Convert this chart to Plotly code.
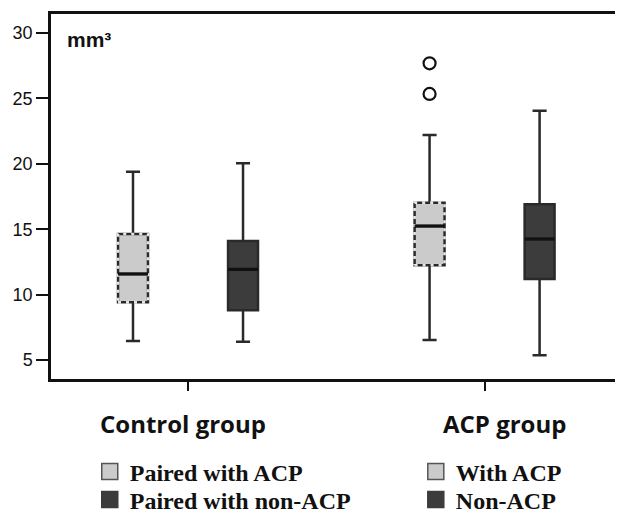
import plotly.graph_objects as go

# ---- data ----
groups = ["Control group", "ACP group"]
series_names = ["Paired with ACP", "Paired with non-ACP", "With ACP", "Non-ACP"]
series_group = [0, 0, 1, 1]
series_side = [-1, 1, -1, 1]
lower = [6.45, 6.4, 6.53, 5.36]
q1 = [9.41, 8.8, 12.24, 11.19]
median = [11.58, 11.93, 15.24, 14.25]
q3 = [14.63, 14.1, 17.03, 16.9]
upper = [19.4, 20.04, 22.2, 24.06]
outlier_series = [2, 2]
outlier_values = [27.68, 25.34]
y_ticks = [5, 10, 15, 20, 25, 30]
unit_label = "mm³"

# ---- styles ----
series_light = [True, False, True, False]
LIGHT = "#cbcbcb"
DARK = "#3c3c3c"
EDGE = "#2a2a2a"
OFFSET = 0.1855
BOX_W = 0.101
legend_ids = ["legend", "legend2", "legend3", "legend4"]
legend_pos = [(0.068, -0.2548), (0.068, -0.3315), (0.64, -0.2548), (0.64, -0.3315)]

fig = go.Figure()

for i, name in enumerate(series_names):
    pos = series_group[i] + series_side[i] * OFFSET
    fill = LIGHT if series_light[i] else DARK
    fig.add_trace(go.Box(
        x=[pos], q1=[q1[i]], median=[median[i]], q3=[q3[i]],
        lowerfence=[lower[i]], upperfence=[upper[i]],
        boxpoints=False, width=BOX_W, whiskerwidth=0.47,
        fillcolor=fill, line=dict(color=EDGE, width=2.5),
        showlegend=False, name=name,
    ))

# dashed outline for light boxes (overlay light dashes on the solid edge)
for i, name in enumerate(series_names):
    pos = series_group[i] + series_side[i] * OFFSET
    hw = BOX_W / 2
    if series_light[i]:
        fig.add_trace(go.Scatter(
            x=[pos - hw, pos + hw, pos + hw, pos - hw, pos - hw],
            y=[q1[i], q1[i], q3[i], q3[i], q1[i]],
            mode="lines", line=dict(color="#e6e6e6", width=2.6, dash="3px,5px"),
            showlegend=False, hoverinfo="skip",
        ))
    # thicker black median line
    fig.add_trace(go.Scatter(
        x=[pos - hw, pos + hw], y=[median[i], median[i]],
        mode="lines", line=dict(color="#111111", width=3.2),
        showlegend=False, hoverinfo="skip",
    ))

# outliers
fig.add_trace(go.Scatter(
    x=[series_group[s] + series_side[s] * OFFSET for s in outlier_series],
    y=outlier_values, mode="markers",
    marker=dict(symbol="circle-open", size=12, color="#111111", line=dict(width=2.2)),
    showlegend=False, hoverinfo="skip",
))

# legend entries
for i, name in enumerate(series_names):
    fill = LIGHT if series_light[i] else DARK
    fig.add_trace(go.Scatter(
        x=[None], y=[None], mode="markers", name=name,
        marker=dict(symbol="square", size=16, color=fill,
                    line=dict(color="#555555" if series_light[i] else DARK, width=1.5)),
        legend=legend_ids[i],
    ))

legend_font = dict(family="Liberation Serif", size=24, color="#111111", weight="bold")

annotations = [
    dict(text=unit_label, xref="paper", yref="paper", x=0.024, y=0.929,
         xanchor="left", yanchor="middle", showarrow=False,
         font=dict(family="Liberation Sans", size=21, color="#111111", weight="bold")),
]
label_shift = [-5, 20]
for g, lab in enumerate(groups):
    annotations.append(dict(
        text=lab, xref="x", yref="paper", x=g, y=-0.122, xshift=label_shift[g],
        xanchor="center", yanchor="middle", showarrow=False,
        font=dict(family="Open Sans", size=24, color="#111111", weight="bold"),
    ))

layout_legends = {}
for lid, (lx, ly) in zip(legend_ids, legend_pos):
    layout_legends[lid] = dict(x=lx, y=ly, xanchor="left", yanchor="middle",
                               font=legend_font, bgcolor="rgba(0,0,0,0)")

# page body has an 8px margin: figure is 8px smaller, margins shifted by 8px
fig.update_layout(
    width=615, height=505,
    margin=dict(l=43, r=2, t=6, b=134, autoexpand=False),
    paper_bgcolor="white", plot_bgcolor="white",
    annotations=annotations,
    xaxis=dict(range=[-0.462, 1.46], tickvals=[0, 1], showticklabels=False,
               ticks="outside", ticklen=9, tickwidth=2, tickcolor="#111111",
               showline=True, linewidth=2.5, linecolor="#111111", mirror=True,
               showgrid=False, zeroline=False, automargin=False),
    yaxis=dict(range=[3.55, 31.45], tickvals=y_ticks,
               ticks="outside", ticklen=12, tickwidth=2, tickcolor="#111111",
               tickfont=dict(family="Liberation Sans", size=18, color="#111111"),
               showline=True, linewidth=2.5, linecolor="#111111", mirror=True,
               showgrid=False, zeroline=False, automargin=False),
    **layout_legends,
)

fig.write_html("out.html")
